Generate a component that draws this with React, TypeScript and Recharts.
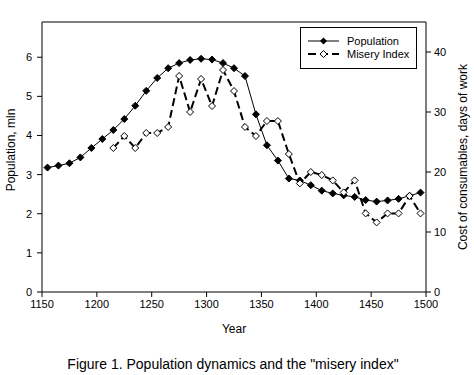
import { LineChart, Line, XAxis, YAxis, ReferenceLine } from "recharts";

const years = [
  1155, 1165, 1175, 1185, 1195, 1205, 1215, 1225, 1235, 1245, 1255, 1265,
  1275, 1285, 1295, 1305, 1315, 1325, 1335, 1345, 1355, 1365, 1375, 1385,
  1395, 1405, 1415, 1425, 1435, 1445, 1455, 1465, 1475, 1485, 1495,
];

// population, mln
const population = [
  3.18, 3.23, 3.29, 3.44, 3.68, 3.91, 4.14, 4.42, 4.76, 5.14, 5.47, 5.72,
  5.85, 5.93, 5.96, 5.94, 5.85, 5.72, 5.52, 4.54, 3.75, 3.36, 2.9, 2.85,
  2.73, 2.59, 2.52, 2.47, 2.43, 2.35, 2.31, 2.34, 2.38, 2.46, 2.54,
];

// misery index, days of work (no data before 1215)
const misery = [
  null, null, null, null, null, null, 24.0, 26.0, 24.0, 26.5, 26.5, 27.5,
  36.0, 30.0, 35.5, 31.0, 37.0, 33.5, 27.5, 26.0, 28.5, 28.5, 23.0, 18.1,
  20.0, 19.5, 18.6, 16.6, 18.6, 13.1, 11.6, 13.1, 13.1, 16.0, 13.1,
];

const xTicks = [1150, 1200, 1250, 1300, 1350, 1400, 1450, 1500];
const leftTicks = [0, 1, 2, 3, 4, 5, 6];
const rightTicks = [0, 10, 20, 30, 40];

const data = years.map((year, i) => ({
  year,
  population: population[i],
  misery: misery[i],
}));

const font = "Arial, 'Liberation Sans', sans-serif";
const tick = { fill: "#000", fontSize: 11, fontFamily: font };

const diamond = (filled: boolean) => (props: any) => {
  const { cx, cy, index } = props;
  if (cx == null || cy == null || props.value == null) return <g key={index} />;
  const r = 3.5;
  return (
    <path
      key={index}
      d={`M${cx},${cy - r}L${cx + r},${cy}L${cx},${cy + r}L${cx - r},${cy}Z`}
      fill={filled ? "#000" : "#fff"}
      stroke="#000"
      strokeWidth={1}
    />
  );
};

export default function App() {
  return (
    <div
      style={{
        position: "absolute",
        left: 0,
        top: 0,
        width: 474,
        height: 375,
        background: "#fff",
        fontFamily: font,
        color: "#000",
      }}
    >
      <LineChart
        width={474}
        height={375}
        data={data}
        margin={{ top: 22, right: 8, bottom: 53, left: 2 }}
      >
        <XAxis
          dataKey="year"
          type="number"
          domain={[1150, 1500]}
          ticks={xTicks}
          tick={tick}
          tickSize={5}
          tickMargin={3}
          stroke="#000"
          height={30}
          allowDataOverflow
        />
        <YAxis
          yAxisId="left"
          domain={[0, 6.9]}
          ticks={leftTicks}
          tick={tick}
          tickSize={5}
          tickMargin={5}
          stroke="#000"
          width={40}
          allowDataOverflow
        />
        <YAxis
          yAxisId="right"
          orientation="right"
          domain={[0, 45]}
          ticks={rightTicks}
          tick={tick}
          tickSize={5}
          tickMargin={3}
          stroke="#000"
          width={40}
          allowDataOverflow
        />
        <ReferenceLine yAxisId="left" y={6.9} stroke="#000" />
        <Line
          yAxisId="left"
          dataKey="population"
          stroke="#000"
          strokeWidth={1}
          dot={diamond(true)}
          activeDot={false}
          isAnimationActive={false}
        />
        <Line
          yAxisId="right"
          dataKey="misery"
          stroke="#000"
          strokeWidth={2}
          strokeDasharray="8 4"
          dot={diamond(false)}
          activeDot={false}
          isAnimationActive={false}
        />
      </LineChart>

      <svg
        width={117}
        height={42}
        style={{ position: "absolute", left: 300, top: 27 }}
      >
        <rect x={0.5} y={0.5} width={116} height={41} fill="#fff" stroke="#000" />
        <line x1={8} y1={14} x2={39} y2={14} stroke="#000" strokeWidth={1} />
        <path d="M23.5,10.5L27,14L23.5,17.5L20,14Z" fill="#000" />
        <line x1={8} y1={27} x2={39} y2={27} stroke="#000" strokeWidth={2} strokeDasharray="8 4" />
        <path d="M23.5,23.5L27,27L23.5,30.5L20,27Z" fill="#fff" stroke="#000" />
        <text x={47} y={18} fontSize={11} fontFamily={font}>
          Population
        </text>
        <text x={47} y={31} fontSize={11} fontFamily={font}>
          Misery Index
        </text>
      </svg>

      <div
        style={{
          position: "absolute",
          left: 11,
          top: 150,
          fontSize: 12,
          whiteSpace: "nowrap",
          transform: "translate(-50%, -50%) rotate(-90deg)",
        }}
      >
        Population, mln
      </div>
      <div
        style={{
          position: "absolute",
          left: 463,
          top: 157,
          fontSize: 12,
          whiteSpace: "nowrap",
          transform: "translate(-50%, -50%) rotate(-90deg)",
        }}
      >
        Cost of consumables, days of work
      </div>
      <div
        style={{
          position: "absolute",
          left: 234,
          top: 329,
          fontSize: 12,
          whiteSpace: "nowrap",
          transform: "translate(-50%, -50%)",
        }}
      >
        Year
      </div>
      <div
        style={{
          position: "absolute",
          left: 233,
          top: 364,
          fontSize: 14,
          whiteSpace: "nowrap",
          transform: "translate(-50%, -50%)",
        }}
      >
        Figure 1. Population dynamics and the "misery index"
      </div>
    </div>
  );
}
